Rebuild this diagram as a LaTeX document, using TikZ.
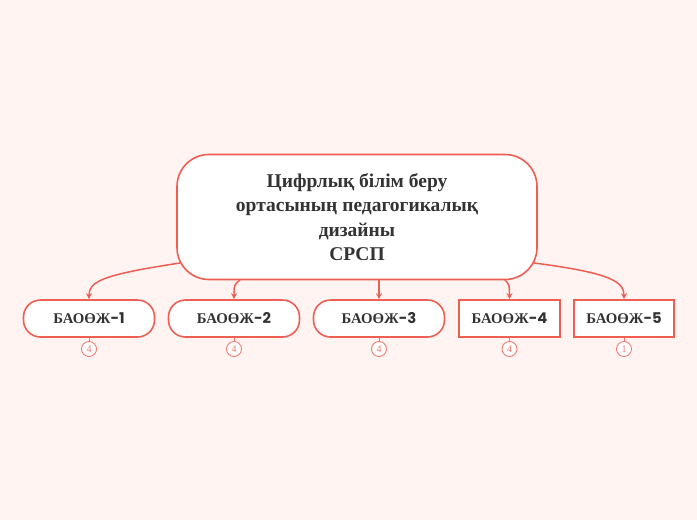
\documentclass[tikz,border=0pt]{standalone}
\usepackage{fontspec}
\setmainfont{Liberation Serif}
\newfontfamily\pop{Poppins}
\usetikzlibrary{arrows.meta}
\definecolor{bg}{HTML}{FFF4F2}
\definecolor{ln}{HTML}{EE5E52}
\definecolor{txt}{HTML}{333333}
\definecolor{bd}{HTML}{F07A70}
\tikzset{
  rootbox/.style={draw=ln,line width=1.6pt,fill=white,rounded corners=32pt,minimum width=360pt,minimum height=125pt,align=center,text=txt,font=\bfseries\fontsize{19.5}{24.5}\selectfont},
  pill/.style={draw=ln,line width=1.6pt,fill=white,rounded corners=17pt,minimum width=131pt,minimum height=37pt,text=txt,font=\bfseries\fontsize{14.8}{16}\selectfont},
  sq/.style={draw=ln,line width=1.6pt,fill=white,minimum height=37pt,text=txt,font=\bfseries\fontsize{14.8}{16}\selectfont},
  badge/.style={draw=bd,line width=0.9pt,circle,fill=white,inner sep=0pt,minimum size=15pt,text=bd,font=\fontsize{10}{10}\selectfont},
  conn/.style={draw=ln,line width=1.5pt,-{Stealth[length=6pt,width=6pt]}},
  stem/.style={draw=bd,line width=1pt}
}
\begin{document}
\begin{tikzpicture}[x=1pt,y=-1pt]
\fill[bg] (0,0) rectangle (697,520);
\useasboundingbox (0,0) rectangle (697,520);
\node[rootbox] (r) at (357,217) {Цифрлық білім беру\\ортасының педагогикалық\\дизайны\\СРСП};
\node[pill] (c1) at (89,318.5) {БАОӨЖ{\pop-1}};
\node[pill] (c2) at (234,318.5) {БАОӨЖ{\pop-2}};
\node[pill] (c3) at (379,318.5) {БАОӨЖ{\pop-3}};
\node[sq,minimum width=101pt] (c4) at (509.5,318.5) {БАОӨЖ{\pop-4}};
\node[sq,minimum width=100pt] (c5) at (624,318.5) {БАОӨЖ{\pop-5}};
\foreach \i/\x/\n in {1/89/4,2/234/4,3/379/4,4/509.5/4,5/624/1}{
  \node[badge] (b\i) at (\x,349) {\n};
  \draw[stem] (c\i.south) -- (b\i.north);
}
\coordinate (s1) at (180,263);
\coordinate (s2) at (240,280);
\coordinate (s3) at (379,280);
\coordinate (s4) at (505,280);
\coordinate (s5) at (534,263);
\draw[conn] (s1) .. controls (100,275) and (89,282) .. (c1.north);
\draw[conn] (s2) .. controls (234,285) .. (c2.north);
\draw[conn] (s3) -- (c3.north);
\draw[conn] (s4) .. controls (509.5,285) .. (c4.north);
\draw[conn] (s5) .. controls (612,273) and (624,282) .. (c5.north);
\end{tikzpicture}
\end{document}
